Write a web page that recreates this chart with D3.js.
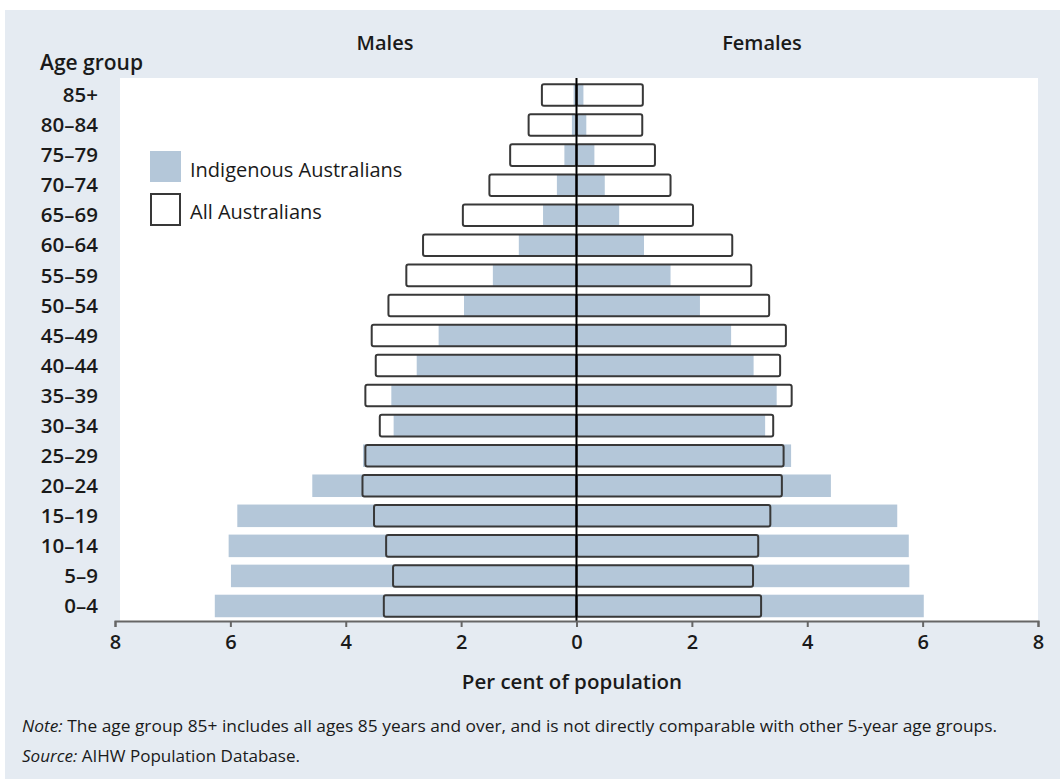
<!DOCTYPE html>
<html>
<meta charset="UTF-8" />
<script src="https://cdn.jsdelivr.net/npm/d3@7"></script>
<style>
*{margin:0; padding:0;}
body{background:#ffffff;}
text{font-family:"Open Sans", sans-serif; fill:#1a1a1a;}
</style>
<body>
<div id="chart"></div>
<script>
// age groups, bottom to top
var ages = ["0–4","5–9","10–14","15–19","20–24","25–29","30–34","35–39","40–44",
	"45–49","50–54","55–59","60–64","65–69","70–74","75–79","80–84","85+"];

// per cent of population
var indigMale   = [6.27,5.99,6.03,5.88,4.58,3.70,3.17,3.21,2.77,2.39,1.95,1.45,1.00,0.58,0.34,0.21,0.08,0.05];
var allMale     = [3.34,3.18,3.30,3.51,3.71,3.66,3.41,3.66,3.48,3.55,3.26,2.95,2.66,1.97,1.51,1.15,0.83,0.60];
var indigFemale = [6.02,5.77,5.76,5.56,4.41,3.72,3.27,3.47,3.07,2.68,2.14,1.63,1.17,0.74,0.49,0.31,0.17,0.12];
var allFemale   = [3.20,3.06,3.15,3.36,3.56,3.59,3.41,3.73,3.53,3.63,3.34,3.03,2.70,2.02,1.63,1.36,1.14,1.15];

var ticks = [-8,-6,-4,-2,0,2,4,6,8];

var width = 1060, height = 779;
var svg = d3.select("#chart").append("svg")
	.attr("width", width)
	.attr("height", height);

// panel background
svg.append("rect")
	.attr("x", 5).attr("y", 10)
	.attr("width", width-5).attr("height", height-10)
	.attr("fill", "#e5ebf2");

var x = d3.scaleLinear().domain([-8, 8]).range([115, 1038]);
var y = d3.scaleBand().domain(ages.slice().reverse()).range([80, 621])
	.paddingInner(0.25).paddingOuter(0.125);

// white plot area
svg.append("rect")
	.attr("x", 120).attr("y", 78)
	.attr("width", 1038-120).attr("height", 621-78)
	.attr("fill", "#ffffff");

var blue = "#b4c7d9";

// indigenous (filled)
svg.append("g").selectAll("rect.im").data(ages).join("rect")
	.attr("x", function(d,i){ return x(-indigMale[i]); })
	.attr("y", function(d){ return y(d); })
	.attr("width", function(d,i){ return x(0) - x(-indigMale[i]); })
	.attr("height", y.bandwidth())
	.attr("fill", blue);
svg.append("g").selectAll("rect.if").data(ages).join("rect")
	.attr("x", x(0))
	.attr("y", function(d){ return y(d); })
	.attr("width", function(d,i){ return x(indigFemale[i]) - x(0); })
	.attr("height", y.bandwidth())
	.attr("fill", blue);

// all australians (outline)
svg.append("g").selectAll("rect").data(ages).join("rect")
	.attr("x", function(d,i){ return x(-allMale[i]); })
	.attr("y", function(d){ return y(d) + 0.5; })
	.attr("width", function(d,i){ return x(0) - x(-allMale[i]); })
	.attr("height", y.bandwidth() - 1)
	.attr("rx", 2)
	.attr("fill", "none")
	.attr("stroke", "#383838")
	.attr("stroke-width", 2);
svg.append("g").selectAll("rect").data(ages).join("rect")
	.attr("x", x(0))
	.attr("y", function(d){ return y(d) + 0.5; })
	.attr("width", function(d,i){ return x(allFemale[i]) - x(0); })
	.attr("height", y.bandwidth() - 1)
	.attr("rx", 2)
	.attr("fill", "none")
	.attr("stroke", "#383838")
	.attr("stroke-width", 2);

// centre line
svg.append("line")
	.attr("x1", x(0)).attr("x2", x(0))
	.attr("y1", 78).attr("y2", 621)
	.style("stroke", "#000")
	.style("stroke-width", 2);

// x axis
var ax = svg.append("g")
	.attr("transform", "translate(0,621)")
	.call(d3.axisBottom(x).tickValues(ticks).tickFormat(function(d){ return Math.abs(d); }).tickSize(6).tickPadding(8));
ax.select(".domain").attr("stroke", "#666").attr("stroke-width", 2);
ax.selectAll(".tick line").attr("stroke", "#666").attr("stroke-width", 2);
ax.selectAll(".tick text")
	.style("font-family", "Open Sans")
	.style("font-size", "20px")
	.style("font-weight", 600)
	.attr("fill", "#1a1a1a");

// age labels
svg.append("g").selectAll("text").data(ages).join("text")
	.attr("x", 98)
	.attr("y", function(d){ return y(d) + y.bandwidth()/2; })
	.attr("dy", "0.35em")
	.attr("text-anchor", "end")
	.style("font-size", "20.5px")
	.style("font-weight", 600)
	.text(function(d){ return d; });

// titles
svg.append("text").attr("x", 40).attr("y", 70)
	.style("font-size", "21px").style("font-weight", 600).text("Age group");
svg.append("text").attr("x", 385).attr("y", 50).attr("text-anchor", "middle")
	.style("font-size", "20px").style("font-weight", 600).text("Males");
svg.append("text").attr("x", 762).attr("y", 50).attr("text-anchor", "middle")
	.style("font-size", "20px").style("font-weight", 600).text("Females");
svg.append("text").attr("x", 572).attr("y", 689).attr("text-anchor", "middle")
	.style("font-size", "20.5px").style("font-weight", 600).text("Per cent of population");

// legend
svg.append("rect").attr("x", 150).attr("y", 151).attr("width", 31).attr("height", 31)
	.attr("fill", blue);
svg.append("rect").attr("x", 151).attr("y", 194).attr("width", 29).attr("height", 31)
	.attr("fill", "#fff").attr("stroke", "#383838").attr("stroke-width", 2);
svg.append("text").attr("x", 190).attr("y", 177)
	.style("font-size", "20px").attr("fill", "#222").text("Indigenous Australians");
svg.append("text").attr("x", 190).attr("y", 219)
	.style("font-size", "20px").attr("fill", "#222").text("All Australians");

// notes
var note = svg.append("text").attr("x", 22).attr("y", 732)
	.attr("textLength", 975).attr("lengthAdjust", "spacingAndGlyphs")
	.style("font-size", "16px").attr("fill", "#333");
note.append("tspan").style("font-style", "italic").text("Note:");
note.append("tspan").text(" The age group 85+ includes all ages 85 years and over, and is not directly comparable with other 5-year age groups.");
var src = svg.append("text").attr("x", 22).attr("y", 762)
	.attr("textLength", 278).attr("lengthAdjust", "spacingAndGlyphs")
	.style("font-size", "16px").attr("fill", "#333");
src.append("tspan").style("font-style", "italic").text("Source:");
src.append("tspan").text(" AIHW Population Database.");
</script>
</body>
</html>
